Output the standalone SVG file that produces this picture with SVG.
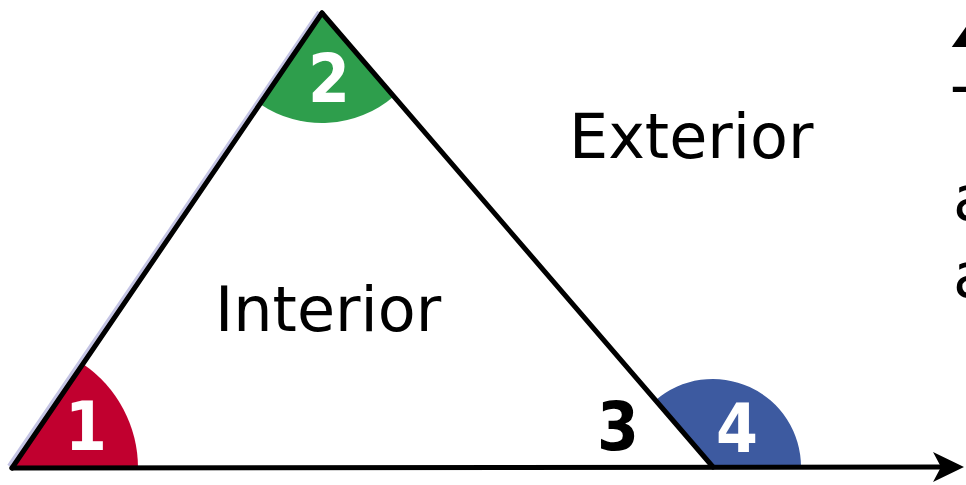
<svg xmlns="http://www.w3.org/2000/svg" width="966" height="485" viewBox="0 0 966 485">
<style>
.lbl{font-family:"DejaVu Sans",Verdana,sans-serif;font-size:62px;fill:#000}
.num{font-family:"DejaVu Sans Condensed","DejaVu Sans",Verdana,sans-serif;font-weight:bold;font-size:67px;text-anchor:middle}
.edge{stroke:#000;stroke-width:5;fill:none;stroke-linecap:round}
</style>
<rect width="966" height="485" fill="#fff"/>
<g id="angle1">
<path d="M12,468 L138,468 A126,126 0 0 0 83,364 Z" fill="#c1002f"/>
<text class="num" x="86" y="450" fill="#fff">1</text>
</g>
<g id="angle2">
<path d="M322,13 L393.7,96.4 A110,110 0 0 1 260,103.9 Z" fill="#2e9e4c"/>
<text class="num" x="329" y="102" fill="#fff">2</text>
</g>
<g id="angle3">
<text class="num" x="618" y="450" fill="#000">3</text>
</g>
<g id="angle4">
<path d="M713,467 L801,467 A88,88 0 0 0 655.6,400.3 Z" fill="#3d5aa0"/>
<text class="num" x="737" y="452" fill="#fff">4</text>
</g>
<g id="connectors">
<line x1="9" y1="466" x2="319" y2="12" stroke="#c4c4e4" stroke-width="4"/>
<line class="edge" x1="12" y1="468" x2="322" y2="13"/>
<line class="edge" x1="322" y1="13" x2="713" y2="467"/>
<line class="edge" x1="12" y1="468" x2="940" y2="467" stroke-linecap="butt"/>
<path d="M933,452 L964,467 L933,482 L941,467 Z" fill="#000"/>
</g>
<g id="labels">
<text class="lbl" x="569" y="158">Exterior</text>
<text class="lbl" x="215" y="331">Interior</text>
<text class="lbl" x="947" y="47" font-size="17" font-weight="bold">∠</text>
<text class="lbl" x="953" y="132">T</text>
<text class="lbl" x="953" y="220">a</text>
<text class="lbl" x="953" y="297">a</text>
</g>
</svg>
